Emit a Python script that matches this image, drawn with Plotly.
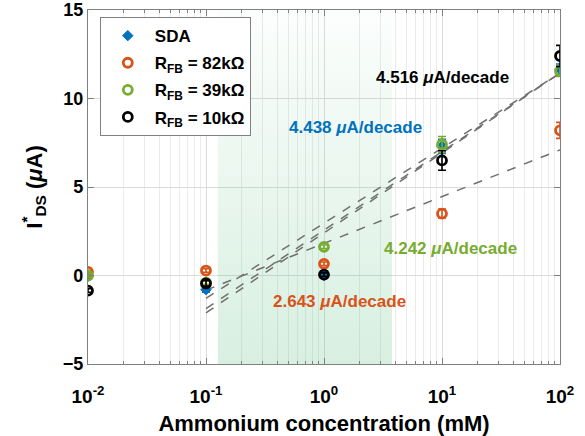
import numpy as np
import plotly.graph_objects as go

# ---- data ----
conc = [0.01, 0.1, 1, 10, 100]
series_names = ["SDA", "R<sub>FB</sub> = 82kΩ", "R<sub>FB</sub> = 39kΩ", "R<sub>FB</sub> = 10kΩ"]
sda_vals = [-0.05, -0.8, 0.0, 7.3, 11.65]
sda_err = [0.15, 0.15, 0.1, 0.4, 0.3]
r82_vals = [0.2, 0.28, 0.66, 3.5, 8.2]
r82_err = [0.1, 0.1, 0.1, 0.25, 0.45]
r39_vals = [0.0, -0.4, 1.62, 7.4, 11.55]
r39_err = [0.1, 0.1, 0.1, 0.45, 0.3]
r10_vals = [-0.85, -0.45, 0.05, 6.5, 12.4]
r10_err = [0.1, 0.15, 0.1, 0.55, 0.6]

# linear fits in log10(x): y = slope*log10(x) + intercept
fit_slopes = [4.438, 2.643, 4.242, 4.516]
fit_intercepts = [2.564, 1.814, 2.956, 2.408]
fit_range = [0.1, 100]
fit_labels = ["4.438 <i>μ</i>A/decade", "2.643 <i>μ</i>A/decade",
              "4.242 <i>μ</i>A/decade", "4.516 <i>μ</i>A/decade"]
label_x = [1.85, 1.36, 11.9, 10.1]
label_y = [8.34, -1.45, 1.52, 11.16]

shade_range = [0.126, 3.77]
y_range = [-5, 15]

colors = ["#0072BD", "#D95319", "#77AC30", "#000000"]
symbols = ["diamond", "circle-open", "circle-open", "circle-open"]
vals = [sda_vals, r82_vals, r39_vals, r10_vals]
errs = [sda_err, r82_err, r39_err, r10_err]

FONT = "Liberation Sans, Arial, sans-serif"

fig = go.Figure()

# shaded region with vertical gradient
fig.add_trace(go.Scatter(
    x=[shade_range[0], shade_range[1], shade_range[1], shade_range[0], shade_range[0]],
    y=[y_range[0], y_range[0], y_range[1], y_range[1], y_range[0]],
    mode="none", fill="toself", showlegend=False, hoverinfo="skip",
    fillgradient=dict(type="vertical",
                      colorscale=[[0, "rgba(90,190,130,0.24)"], [1, "rgba(90,190,130,0.02)"]]),
))

# fit lines
fx = np.array(fit_range, dtype=float)
for s, c in zip(fit_slopes, fit_intercepts):
    fig.add_trace(go.Scatter(
        x=fx, y=s * np.log10(fx) + c, mode="lines", showlegend=False,
        line=dict(color="#707070", width=1.5, dash="dash"), hoverinfo="skip",
    ))

# data
for i, (name, v, e, col, sym) in enumerate(zip(series_names, vals, errs, colors, symbols)):
    fig.add_trace(go.Scatter(
        x=conc, y=v, mode="markers", name=name, legendgroup="g%d" % i,
        marker=dict(symbol=sym, size=8 if sym == "diamond" else 9, color=col,
                    line=dict(color=col, width=2.8 if sym != "diamond" else 1)),
        error_y=dict(type="data", array=e, visible=True, color=col, thickness=1.6, width=4),
    ))

for txt, lx, ly, col in zip(fit_labels, label_x, label_y, colors):
    fig.add_annotation(x=np.log10(lx), y=ly, xref="x", yref="y", text="<b>" + txt + "</b>",
                       showarrow=False, font=dict(family=FONT, size=17, color=col))

minor_vals = [m * 10.0 ** d for d in range(-2, 2) for m in range(2, 10)]

fig.update_layout(
    width=585, height=436,
    margin=dict(l=88, r=25, t=10, b=72),
    paper_bgcolor="white", plot_bgcolor="white",
    font=dict(family=FONT, size=18, color="black", weight="bold"),
    legend=dict(x=0.025, y=0.98, xanchor="left", yanchor="top",
                bgcolor="white", bordercolor="#808080", borderwidth=1,
                font=dict(family=FONT, size=17, weight="bold"),
                itemwidth=44, tracegroupgap=2),
    xaxis=dict(
        type="log", range=[-2, 2], automargin=False,
        tickvals=[0.01, 0.1, 1, 10, 100],
        ticktext=["10<sup>-2</sup>", "10<sup>-1</sup>", "10<sup>0</sup>", "10<sup>1</sup>", "10<sup>2</sup>"],
        ticks="inside", ticklen=6, tickcolor="#808080", ticklabelstandoff=15,
        ticklabeloverflow="allow",
        showline=True, linecolor="#808080", linewidth=1.2, mirror="ticks",
        showgrid=True, gridcolor="#dcdcdc", gridwidth=1,
        minor=dict(tickvals=minor_vals, ticks="inside", ticklen=3, tickcolor="#808080",
                   showgrid=True, gridcolor="#ebebeb", gridwidth=1),
        tickfont=dict(family=FONT, size=19, weight="bold"),
        title=dict(text="Ammonium concentration (mM)",
                   font=dict(family=FONT, size=22, weight="bold"), standoff=13),
        zeroline=False,
    ),
    yaxis=dict(
        range=y_range, tickvals=[-5, 0, 5, 10, 15], automargin=False,
        ticks="inside", ticklen=6, tickcolor="#808080", ticklabeloverflow="allow",
        showline=True, linecolor="#808080", linewidth=1.2, mirror="ticks",
        showgrid=True, gridcolor="#dcdcdc", gridwidth=1,
        tickfont=dict(family=FONT, size=18, weight="bold"),
        title=dict(text="I<sup>*</sup><sub>DS</sub> (<i>μ</i>A)",
                   font=dict(family=FONT, size=22, weight="bold"), standoff=14),
        zeroline=False,
    ),
)

fig.write_html("out.html", config={"displayModeBar": False},
               post_script="document.body.style.margin='0';")
